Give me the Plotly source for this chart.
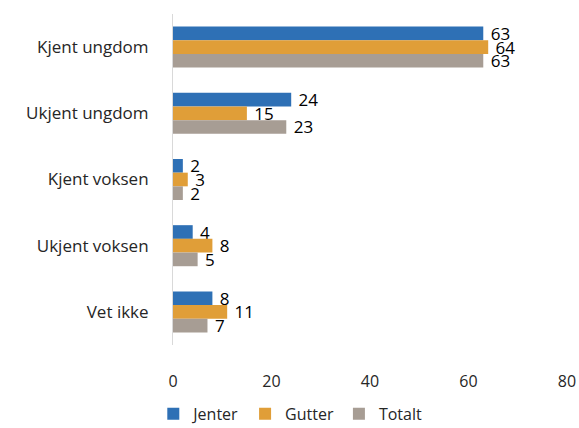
import plotly.graph_objects as go

categories = ["Kjent ungdom", "Ukjent ungdom", "Kjent voksen", "Ukjent voksen", "Vet ikke"]
jenter = [63, 24, 2, 4, 8]
gutter = [64, 15, 3, 8, 11]
totalt = [63, 23, 2, 5, 7]
series_names = ["Jenter", "Gutter", "Totalt"]
colors = ["#2E70B5", "#E09E38", "#A79D94"]

fig = go.Figure()
for name, vals, col in zip(series_names, [jenter, gutter, totalt], colors):
    fig.add_trace(go.Bar(
        y=categories, x=vals, name=name, orientation="h",
        marker=dict(color=col, line=dict(width=0)),
        text=[" " + str(v) for v in vals], textposition="outside",
        constraintext="none", cliponaxis=False,
        textfont=dict(size=17, color="#000000", family="Open Sans"),
    ))

fig.update_layout(
    width=579, height=428,
    margin=dict(l=173, r=12, t=14, b=83, autoexpand=False),
    barmode="group", bargap=0.38, bargroupgap=0,
    plot_bgcolor="white", paper_bgcolor="white",
    font=dict(family="Open Sans", size=16, color="#262626"),
    xaxis=dict(range=[0, 80], tickvals=[0, 20, 40, 60, 80], showgrid=False,
               zeroline=False, showline=False, ticks="outside", ticklen=22,
               tickcolor="rgba(0,0,0,0)", tickfont=dict(size=16)),
    yaxis=dict(autorange="reversed", showgrid=False, zeroline=False,
               showline=True, linecolor="#D9D9D9", linewidth=1,
               ticks="outside", ticklen=20, tickcolor="rgba(0,0,0,0)",
               tickfont=dict(size=17)),
    legend=dict(orientation="h", x=-0.05, xanchor="left", y=-0.157, yanchor="top",
                font=dict(size=16), traceorder="normal", itemwidth=30),
    showlegend=True,
)

fig.write_html("out.html", config={"displayModeBar": False},
               post_script="document.body.style.margin='0';")
